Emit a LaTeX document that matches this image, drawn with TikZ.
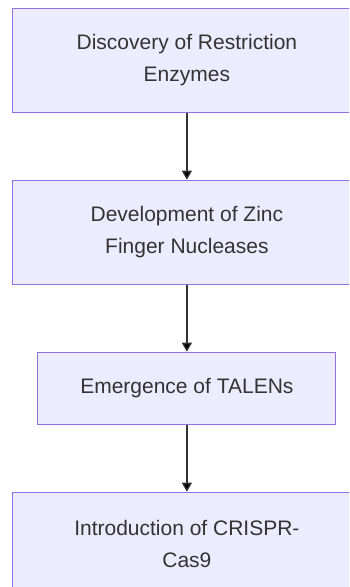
\documentclass[tikz,border=0pt]{standalone}
\usepackage{fontspec}
\setmainfont{Liberation Sans}
\usepackage{xcolor}
\usetikzlibrary{positioning,arrows.meta}
\definecolor{boxfill}{HTML}{ECECFF}
\definecolor{boxline}{HTML}{9370DB}
\definecolor{linkgray}{HTML}{333333}

\begin{document}
\begin{tikzpicture}[node distance=67pt,
        stage/.style={draw=boxline, fill=boxfill, line width=1pt, align=center,
            minimum width=348pt, minimum height=104pt, inner sep=0pt,
            text=linkgray, font=\fontsize{21}{31.5}\selectfont},
        >={Triangle[length=9pt,width=10pt]}]
        \useasboundingbox (-186.9pt,60.2pt) rectangle (162.1pt,-526.8pt);
        \clip (-186.9pt,60.2pt) rectangle (162.1pt,-526.8pt);

        \node[stage]                                         (disc)   {Discovery of Restriction\\Enzymes};
        \node[stage]                               (zfn)    [below=of disc]  {Development of Zinc\\Finger Nucleases};
        \node[stage, minimum width=298pt, minimum height=72pt] (talen)  [below=of zfn]   {Emergence of TALENs};
        \node[stage]                               (crispr) [below=of talen] {Introduction of CRISPR-\\Cas9};

        \path[->, draw=linkgray, line width=1.3pt]
        (disc)  edge (zfn)
        (zfn)   edge (talen)
        (talen) edge (crispr);

    \end{tikzpicture}
\end{document}
